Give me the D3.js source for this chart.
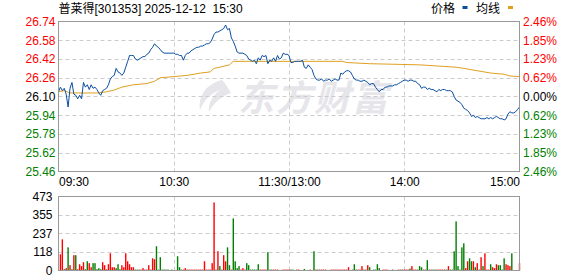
<!DOCTYPE html>
<html>
<head>
<meta charset="utf-8">
<script src="https://cdn.jsdelivr.net/npm/d3@7"></script>
<style>
  body { margin: 0; background: #fff; }
  svg { display: block; font-family: "Liberation Sans", Arial, "Noto Sans CJK SC", sans-serif; }
</style>
</head>
<body>
<div id="root"></div>
<script>
// ---- data ----
const title = "普莱得[301353] 2025-12-12  15:30";
const preClose = 26.10;
const priceTicks = [26.74, 26.58, 26.42, 26.26, 26.10, 25.94, 25.78, 25.62, 25.46];
const pctLabels = ["2.46%", "1.85%", "1.23%", "0.62%", "0.00%", "0.62%", "1.23%", "1.85%", "2.46%"];
const volTicks = [473, 355, 237, 118, 0];
const timeTicks = [0, 60, 120, 180, 240];
const timeLabels = ["09:30", "10:30", "11:30/13:00", "14:00", "15:00"];

// one price per minute, index 0 = 09:30, 240 = 15:00
const prices = [
  26.14, 26.18, 26.15, 26.17, 26.12, 26.01, 26.17, 26.22, 26.12, 26.11,
  26.08, 26.11, 26.08, 26.22, 26.18, 26.20, 26.16, 26.20, 26.17, 26.18,
  26.16, 26.13, 26.11, 26.15, 26.16, 26.17, 26.20, 26.25, 26.27, 26.28,
  26.34, 26.31, 26.30, 26.28, 26.30, 26.35, 26.40, 26.45, 26.45, 26.45,
  26.42, 26.41, 26.42, 26.43, 26.44, 26.44, 26.46, 26.47, 26.50, 26.52,
  26.55, 26.53, 26.52, 26.50, 26.48, 26.47, 26.47, 26.47, 26.47, 26.47,
  26.47, 26.46, 26.46, 26.45, 26.45, 26.41, 26.45, 26.47, 26.47, 26.49,
  26.50, 26.51, 26.52, 26.52, 26.53, 26.53, 26.54, 26.55, 26.55, 26.56,
  26.59, 26.63, 26.65, 26.65, 26.66, 26.67, 26.68, 26.71, 26.67, 26.68,
  26.60, 26.57, 26.53, 26.48, 26.47, 26.47, 26.47, 26.46, 26.45, 26.42,
  26.41, 26.40, 26.41, 26.38, 26.43, 26.41, 26.45, 26.44, 26.45, 26.38,
  26.41, 26.40, 26.43, 26.40, 26.45, 26.42, 26.43, 26.47, 26.46, 26.46,
  26.45, 26.39, 26.39, 26.40, 26.40, 26.40, 26.40, 26.41, 26.35, 26.34,
  26.37, 26.35, 26.33, 26.28, 26.25, 26.24, 26.24, 26.25, 26.23, 26.24,
  26.24, 26.25, 26.23, 26.24, 26.25, 26.24, 26.24, 26.30, 26.29, 26.31,
  26.32, 26.32, 26.31, 26.28, 26.25, 26.24, 26.24, 26.23, 26.23, 26.24,
  26.23, 26.22, 26.20, 26.21, 26.21, 26.18, 26.16, 26.14, 26.16, 26.16,
  26.18, 26.18, 26.19, 26.19, 26.19, 26.20, 26.20, 26.21, 26.22, 26.23,
  26.24, 26.24, 26.23, 26.24, 26.24, 26.23, 26.23, 26.21, 26.20, 26.17,
  26.18, 26.18, 26.16, 26.17, 26.16, 26.16, 26.15, 26.14, 26.16, 26.15,
  26.16, 26.16, 26.15, 26.15, 26.15, 26.14, 26.10, 26.07, 26.06, 26.05,
  26.03, 26.00, 25.99, 25.98, 25.96, 25.93, 25.94, 25.92, 25.93, 25.92,
  25.91, 25.91, 25.91, 25.92, 25.91, 25.92, 25.91, 25.92, 25.93, 25.92,
  25.91, 25.91, 25.90, 25.91, 25.95, 25.97, 25.96, 25.96, 25.97, 25.99,
  26.01
];

// average price line, sampled where it bends
const avgMinutes = [0, 3, 6, 20, 25, 29, 33, 39, 46, 50, 53, 60, 67, 74, 79, 81, 84, 89, 91, 98, 148, 150, 162, 188, 207, 211, 218, 225, 232, 235, 240];
const avgPrices = [26.14, 26.15, 26.13, 26.13, 26.14, 26.155, 26.18, 26.20, 26.21, 26.23, 26.26, 26.27, 26.28, 26.30, 26.31, 26.34, 26.35, 26.37, 26.40, 26.40, 26.40, 26.39, 26.38, 26.37, 26.35, 26.34, 26.32, 26.30, 26.29, 26.275, 26.27];

// volume per minute (hands) and direction: 1 = up (red), -1 = down (green)
const volumes = [
  0, 104, 199, 8, 15, 148, 34, 8, 98, 98,
  8, 40, 28, 53, 8, 59, 47, 21, 47, 47,
  8, 15, 8, 53, 34, 8, 40, 110, 21, 21,
  15, 40, 8, 34, 21, 110, 59, 40, 21, 21,
  6, 6, 6, 6, 15, 6, 6, 34, 6, 78,
  72, 155, 6, 85, 6, 6, 6, 6, 0, 6,
  0, 0, 91, 21, 6, 6, 15, 6, 6, 6,
  6, 6, 6, 6, 6, 6, 59, 6, 6, 6,
  47, 435, 6, 123, 28, 6, 98, 59, 148, 34,
  6, 333, 59, 15, 28, 6, 15, 6, 47, 34,
  6, 6, 6, 6, 40, 6, 6, 6, 6, 117,
  6, 6, 6, 6, 6, 0, 0, 6, 6, 6,
  6, 6, 6, 0, 6, 6, 0, 0, 10, 0,
  0, 6, 0, 123, 6, 6, 6, 6, 6, 6,
  0, 0, 6, 6, 6, 6, 6, 6, 6, 6,
  6, 21, 0, 6, 40, 6, 6, 6, 28, 6,
  6, 34, 21, 0, 6, 6, 40, 15, 0, 6,
  6, 6, 0, 0, 6, 0, 0, 6, 6, 6,
  6, 6, 6, 12, 28, 6, 6, 6, 28, 21,
  6, 6, 66, 6, 6, 6, 6, 6, 6, 6,
  6, 6, 6, 28, 6, 6, 123, 314, 28, 6,
  148, 174, 15, 59, 78, 59, 59, 21, 47, 6,
  85, 28, 110, 6, 6, 40, 21, 15, 40, 34,
  34, 6, 78, 40, 34, 28, 110, 0, 0, 0,
  47
];
const volDirs = [
  1, 1, 1, -1, 1, -1, 1, -1, 1, -1,
  1, 1, 1, 1, -1, -1, 1, 1, -1, -1,
  -1, -1, -1, 1, 1, 1, 1, 1, 1, 1,
  -1, -1, -1, 1, 1, 1, 1, 1, 1, 1,
  -1, -1, -1, 1, 1, 1, 1, 1, 1, 1,
  1, -1, -1, -1, -1, -1, -1, -1, -1, -1,
  -1, -1, -1, -1, -1, 1, 1, 1, 1, 1,
  1, 1, 1, 1, 1, 1, 1, 1, 1, 1,
  1, 1, 1, 1, -1, -1, 1, 1, -1, -1,
  1, -1, -1, -1, -1, 1, 1, 1, -1, -1,
  -1, -1, -1, -1, -1, 1, 1, 1, 1, -1,
  -1, -1, 1, 1, 1, 1, 1, 1, 1, 1,
  1, -1, -1, 1, 1, 1, 1, 1, -1, 1,
  1, 1, 1, -1, 1, -1, 1, 1, 1, 1,
  1, 1, 1, 1, 1, 1, 1, 1, 1, 1,
  1, 1, 1, -1, -1, -1, 1, 1, 1, -1,
  1, 1, -1, 1, -1, -1, -1, -1, 1, 1,
  1, 1, 1, 1, 1, 1, 1, 1, -1, 1,
  1, 1, 1, -1, 1, 1, 1, -1, -1, -1,
  -1, 1, -1, -1, 1, -1, -1, 1, 1, 1,
  1, 1, -1, 1, -1, -1, -1, -1, -1, -1,
  -1, -1, 1, 1, -1, -1, 1, -1, 1, -1,
  1, -1, 1, 1, 1, -1, 1, 1, 1, -1,
  -1, -1, -1, 1, 1, 1, -1, 1, 1, 1,
  1
];

// ---- layout ----
const width = 578, height = 276;
const left = 58.5, right = 519.5;
const pTop = 21.5, pBot = 171.5;
const vTop = 196.5, vBot = 270.5;

const red = "#ff0000", green = "#008000", gridColor = "#cccccc", borderColor = "#999999";

const svg = d3.select("#root").append("svg")
  .attr("width", width)
  .attr("height", height);

const x = d3.scaleLinear().domain([0, 240]).range([left, right]);
const y = d3.scaleLinear().domain([25.46, 26.74]).range([pBot, pTop]);
const yv = d3.scaleLinear().domain([0, 473]).range([vBot, vTop]);

// watermark
const wm = svg.append("g").attr("fill", "#e6e6ea");
wm.append("path")
  .attr("d", "M222,80 C206,84 198,96 200,110 C204,100 210,94 220,90 C212,96 208,104 209,112 C214,102 222,96 231,93 C228,88 226,84 222,80 Z");
wm.append("text")
  .attr("x", 238)
  .attr("y", 111)
  .attr("font-size", 36)
  .attr("font-weight", "bold")
  .attr("font-style", "italic")
  .attr("font-family", "'Noto Sans CJK SC', sans-serif")
  .attr("letter-spacing", 2)
  .text("东方财富");

// gridlines
function hGrid(scale, values) {
  svg.append("g")
    .selectAll("line")
    .data(values)
    .join("line")
    .attr("x1", left).attr("x2", right)
    .attr("y1", d => Math.round(scale(d)) + 0.5)
    .attr("y2", d => Math.round(scale(d)) + 0.5)
    .attr("stroke", gridColor)
    .attr("stroke-dasharray", "4,3");
}
function vGrid(y1, y2) {
  svg.append("g")
    .selectAll("line")
    .data(timeTicks.slice(1, -1))
    .join("line")
    .attr("x1", d => Math.round(x(d)) + 0.5)
    .attr("x2", d => Math.round(x(d)) + 0.5)
    .attr("y1", y1).attr("y2", y2)
    .attr("stroke", gridColor)
    .attr("stroke-dasharray", "4,3");
}
hGrid(y, priceTicks.slice(1, -1));
vGrid(pTop, pBot);
hGrid(yv, volTicks.slice(1, -1));
vGrid(vTop, vBot);

// volume bars
svg.append("g")
  .selectAll("rect")
  .data(volumes.map((v, i) => ({ t: i, v: v, dir: volDirs[i] })).filter(d => d.v > 0))
  .join("rect")
  .attr("x", d => x(d.t) - 0.7)
  .attr("width", 1.4)
  .attr("y", d => yv(d.v))
  .attr("height", d => vBot - yv(d.v))
  .attr("fill", d => d.dir > 0 ? red : green);

// average line
svg.append("path")
  .datum(avgMinutes.map((t, i) => [t, avgPrices[i]]))
  .attr("fill", "none")
  .attr("stroke", "#dfa020")
  .attr("stroke-width", 1)
  .attr("d", d3.line().x(d => x(d[0])).y(d => y(d[1])));

// price line
svg.append("path")
  .datum(prices)
  .attr("fill", "none")
  .attr("stroke", "#0a4ea0")
  .attr("stroke-width", 1)
  .attr("d", d3.line().x((d, i) => x(i)).y(d => y(d)));

// frames
svg.append("rect")
  .attr("x", left).attr("y", pTop)
  .attr("width", right - left).attr("height", pBot - pTop)
  .attr("fill", "none").attr("stroke", borderColor);
svg.append("rect")
  .attr("x", left).attr("y", vTop)
  .attr("width", right - left).attr("height", vBot - vTop)
  .attr("fill", "none").attr("stroke", borderColor);

function priceColor(p) {
  if (Math.abs(p - preClose) < 1e-6) return "#000";
  return p > preClose ? red : green;
}

// left price axis
const yAxis = svg.append("g")
  .attr("transform", `translate(${left},0)`)
  .call(d3.axisLeft(y).tickValues(priceTicks).tickFormat(d3.format(".2f")).tickSize(0).tickPadding(3));
yAxis.select(".domain").remove();
yAxis.selectAll("text")
  .attr("font-size", 12)
  .attr("font-family", "'Liberation Sans', Arial, sans-serif")
  .attr("fill", d => priceColor(d));

// right percent axis
const pctAxis = svg.append("g")
  .attr("transform", `translate(${right},0)`)
  .call(d3.axisRight(y).tickValues(priceTicks).tickFormat((d, i) => pctLabels[i]).tickSize(0).tickPadding(3.5));
pctAxis.select(".domain").remove();
pctAxis.selectAll("text")
  .attr("font-size", 12)
  .attr("font-family", "'Liberation Sans', Arial, sans-serif")
  .attr("fill", d => priceColor(d));

// volume axis
const vAxis = svg.append("g")
  .attr("transform", `translate(${left},0)`)
  .call(d3.axisLeft(yv).tickValues(volTicks).tickFormat(d3.format("d")).tickSize(0).tickPadding(6));
vAxis.select(".domain").remove();
vAxis.selectAll("text")
  .attr("font-size", 12)
  .attr("font-family", "'Liberation Sans', Arial, sans-serif")
  .attr("fill", "#000");

// time axis
const xAxis = svg.append("g")
  .attr("transform", `translate(0,${pBot})`)
  .call(d3.axisBottom(x).tickValues(timeTicks).tickFormat((d, i) => timeLabels[i]).tickSize(0).tickPadding(6));
xAxis.select(".domain").remove();
xAxis.selectAll("text")
  .attr("font-size", 12)
  .attr("font-family", "'Liberation Sans', Arial, sans-serif")
  .attr("fill", "#000")
  .attr("text-anchor", (d, i) => i === 0 ? "start" : (i === timeTicks.length - 1 ? "end" : "middle"));

// title
svg.append("text")
  .attr("x", left)
  .attr("y", 13)
  .attr("font-size", 12)
  .style("white-space", "pre")
  .attr("fill", "#000")
  .text(title);

// legend
const legend = svg.append("g").attr("font-size", 12).attr("fill", "#000");
legend.append("text").attr("x", 431).attr("y", 13).text("价格");
legend.append("rect").attr("x", 462.5).attr("y", 6).attr("width", 5).attr("height", 3).attr("fill", "#0a4ea0");
legend.append("text").attr("x", 476).attr("y", 13).text("均线");
legend.append("rect").attr("x", 508).attr("y", 6).attr("width", 5).attr("height", 3).attr("fill", "#dfa020");
</script>
</body>
</html>
